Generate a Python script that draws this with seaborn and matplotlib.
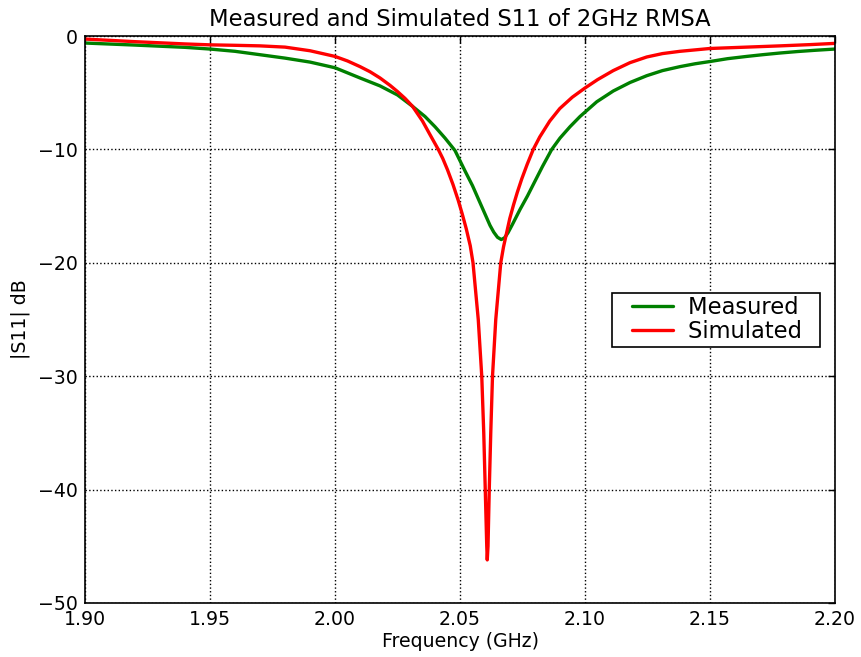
import numpy as np
import pandas as pd
import matplotlib
matplotlib.use("Agg")
import matplotlib.pyplot as plt
from matplotlib.lines import Line2D
from matplotlib.legend_handler import HandlerLine2D
import seaborn as sns

# Measured return loss of the 2 GHz rectangular microstrip patch antenna
freq_measured = [1.90, 1.92, 1.94, 1.95, 1.96, 1.97, 1.98, 1.99, 2.00, 2.01,
                 2.018, 2.025, 2.031, 2.036, 2.040, 2.044, 2.048, 2.052, 2.055, 2.058,
                 2.060, 2.062, 2.0635, 2.065, 2.0665, 2.0678, 2.0692, 2.071, 2.074, 2.077,
                 2.0793, 2.083, 2.0867, 2.090, 2.094, 2.098, 2.1047, 2.1113, 2.118, 2.1247,
                 2.131, 2.138, 2.144, 2.150, 2.157, 2.1647, 2.171, 2.178, 2.185, 2.192,
                 2.200]
s11_measured = [-0.62, -0.8, -1.0, -1.15, -1.35, -1.65, -1.95, -2.3, -2.8, -3.7,
                -4.4, -5.2, -6.2, -7.1, -8.0, -9.0, -10.1, -11.9, -13.2, -14.7,
                -15.7, -16.7, -17.3, -17.75, -17.95, -17.8, -17.35, -16.6, -15.3, -14.1,
                -13.1, -11.5, -10.0, -9.0, -8.0, -7.1, -5.8, -4.85, -4.1, -3.5,
                -3.05, -2.7, -2.45, -2.25, -2.0, -1.8, -1.65, -1.5, -1.37, -1.26,
                -1.15]

# Simulated return loss
freq_simulated = [1.90, 1.92, 1.94, 1.95, 1.96, 1.97, 1.98, 1.99, 2.00, 2.005,
                  2.01, 2.014, 2.018, 2.022, 2.025, 2.028, 2.031, 2.035, 2.038, 2.0413,
                  2.0431, 2.045, 2.0472, 2.0493, 2.0509, 2.0525, 2.0541, 2.0552, 2.0573, 2.0587,
                  2.0595, 2.0601, 2.0607, 2.0609, 2.0612, 2.0617, 2.0623, 2.063, 2.0643, 2.0663,
                  2.0674, 2.0687, 2.0699, 2.0714, 2.0729, 2.0747, 2.0769, 2.0793, 2.0819, 2.0859,
                  2.0899, 2.0949, 2.0999, 2.105, 2.1113, 2.118, 2.1247, 2.131, 2.138, 2.150,
                  2.1647, 2.178, 2.190, 2.200]
s11_simulated = [-0.27, -0.5, -0.7, -0.78, -0.82, -0.87, -0.98, -1.3, -1.8, -2.2,
                 -2.7, -3.15, -3.7, -4.35, -4.9, -5.5, -6.2, -7.5, -8.7, -10.0,
                 -10.8, -11.8, -13.1, -14.5, -15.7, -17.0, -18.5, -20.0, -25.0, -30.0,
                 -35.0, -40.0, -45.0, -46.2, -45.0, -40.0, -35.0, -30.0, -25.0, -20.0,
                 -18.6, -17.3, -16.1, -14.9, -13.8, -12.6, -11.3, -10.0, -8.9, -7.5,
                 -6.4, -5.4, -4.6, -3.85, -3.05, -2.35, -1.85, -1.55, -1.35, -1.1,
                 -0.98, -0.87, -0.76, -0.65]

series_names = ["Measured", "Simulated"]
series_colors = ["#008000", "#ff0000"]
x_ticks = [1.90, 1.95, 2.00, 2.05, 2.10, 2.15, 2.20]
y_ticks = [0, -10, -20, -30, -40, -50]

df = pd.concat([
    pd.DataFrame({"f": freq_measured, "s11": s11_measured, "kind": series_names[0]}),
    pd.DataFrame({"f": freq_simulated, "s11": s11_simulated, "kind": series_names[1]}),
], ignore_index=True)

sns.set_style("white")
plt.rcParams.update({
    "font.family": ["DejaVu Sans"],
    "text.color": "black",
    "axes.labelcolor": "black",
    "xtick.color": "black",
    "ytick.color": "black",
    "xtick.direction": "in",
    "ytick.direction": "in",
    "xtick.top": True,
    "ytick.right": True,
    "xtick.major.size": 5,
    "ytick.major.size": 5,
    "axes.edgecolor": "black",
    "axes.linewidth": 1.2,
})

fig = plt.figure(figsize=(8.62, 6.57), dpi=100)
ax = fig.add_axes([0.0986, 0.0822, 0.8701, 0.8630])

sns.lineplot(data=df, x="f", y="s11", hue="kind", palette=series_colors,
             hue_order=series_names, estimator=None, sort=False,
             linewidth=2.4, ax=ax)

ax.set_xlim(1.90, 2.20)
ax.set_ylim(-50, 0)
ax.set_xticks(x_ticks)
ax.set_xticklabels([f"{v:.2f}" for v in x_ticks])
ax.set_yticks(y_ticks)
ax.set_yticklabels([str(v).replace("-", "\u2212") for v in y_ticks])
ax.tick_params(labelsize=13.6, pad=5, width=1, colors="black")
ax.grid(True, color="black", linestyle=":", linewidth=1.0)

ax.set_title("Measured and Simulated S11 of 2GHz RMSA", fontsize=16.3, pad=7, color="black")
ax.set_xlabel("Frequency (GHz)", fontsize=13.6, labelpad=2)
ax.set_ylabel("|S11| dB", fontsize=13.6, labelpad=6)

# Legend with the line samples inset from the frame's left edge
handles, labels = ax.get_legend_handles_labels()
leg = ax.legend(handles, [lab + "  " for lab in labels],
                loc="upper right", bbox_to_anchor=(0.98, 0.547), borderaxespad=0,
                fontsize=16.3, fancybox=False, framealpha=1, edgecolor="black",
                handlelength=2.54, borderpad=0.15, labelspacing=0.05, handletextpad=0.66,
                handler_map={Line2D: HandlerLine2D(xpad=0.73)})
leg.get_frame().set_linewidth(1.2)
for t in leg.get_texts():
    t.set_color("black")

fig.savefig("out.png", dpi=100)
